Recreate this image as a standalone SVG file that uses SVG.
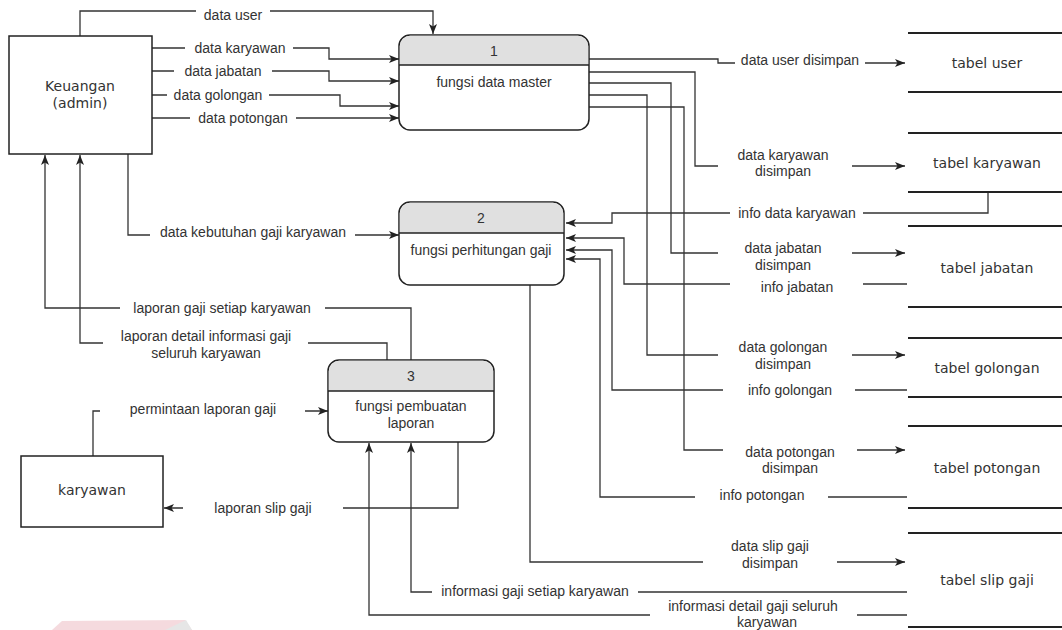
<svg xmlns="http://www.w3.org/2000/svg" width="1062" height="630" viewBox="0 0 1062 630">
  <defs>
    <marker id="arrow" viewBox="0 0 10 8" refX="10" refY="4" markerWidth="10" markerHeight="8" markerUnits="userSpaceOnUse" orient="auto">
      <path d="M0,0 L10,4 L0,8 L2.5,4 Z" fill="#222"/>
    </marker>
    <style>
      .flow { fill: none; stroke: #333; stroke-width: 1.3; }
      .arr { marker-end: url(#arrow); }
      .gap { fill: #fff; stroke: none; }
      .lbl { font-family: "Liberation Sans", Arial, sans-serif; font-size: 14px; fill: #333; text-anchor: middle; }
      .ent { font-family: "DejaVu Sans", Verdana, sans-serif; font-size: 14px; fill: #333; text-anchor: middle; }
      .box { fill: #fff; stroke: #222; stroke-width: 1.5; }
      .proc { fill: #fff; stroke: #222; stroke-width: 1.5; }
      .head { fill: #e0e0e0; stroke: none; }
      .div { stroke: #222; stroke-width: 1.5; }
      .store { stroke: #222; stroke-width: 2.2; }
    </style>
  </defs>
  <rect width="1062" height="630" fill="#fff"/>

  <!-- faint logo mark at the lower left -->
  <g id="logo-mark" opacity="0.6">
    <polygon points="52,630 62,621 185,620 192,630" fill="#efc3c9"/>
    <polygon points="165,630 186,620 192,630" fill="#d6d6d6"/>
  </g>

  <!-- data flows -->
  <g id="connectors">
    <path class="flow arr" d="M80,36 V11 H433 V34"/>
    <path class="flow arr" d="M152,48 H329 V59 H399"/>
    <path class="flow arr" d="M152,71 H329 V81 H399"/>
    <path class="flow arr" d="M152,95 H340 V106 H399"/>
    <path class="flow arr" d="M152,118 H399"/>
    <path class="flow arr" d="M589,59 H718 V63 H905"/>
    <path class="flow arr" d="M589,72 H695 V166 H905"/>
    <path class="flow arr" d="M589,83 H671 V253 H905"/>
    <path class="flow arr" d="M589,95 H647 V355 H905"/>
    <path class="flow arr" d="M589,107 H684 V450 H905"/>
    <path class="flow arr" d="M988,192 V213 H612 V223 H566"/>
    <path class="flow arr" d="M907,284 H624 V238 H566"/>
    <path class="flow arr" d="M907,390 H612 V250 H566"/>
    <path class="flow arr" d="M907,497 H600 V259 H566"/>
    <path class="flow arr" d="M530,285 V562 H905"/>
    <path class="flow arr" d="M128,154 V235 H399"/>
    <path class="flow arr" d="M411,360 V308 H45 V155"/>
    <path class="flow arr" d="M387,360 V343 H80 V155"/>
    <path class="flow arr" d="M93,456 V411 H328"/>
    <path class="flow arr" d="M458,442 V508 H164"/>
    <path class="flow arr" d="M907,592 H411 V443"/>
    <path class="flow arr" d="M907,615 H369 V443"/>
  </g>

  <!-- flow labels -->
  <g id="flow-labels">
    <rect class="gap" x="196" y="3" width="74" height="18"/>
    <text class="lbl" x="233" y="20">data user</text>
    <rect class="gap" x="185" y="39" width="108" height="18"/>
    <text class="lbl" x="240" y="53">data karyawan</text>
    <rect class="gap" x="174" y="62" width="98" height="18"/>
    <text class="lbl" x="223" y="76">data jabatan</text>
    <rect class="gap" x="167" y="86" width="102" height="18"/>
    <text class="lbl" x="218" y="100">data golongan</text>
    <rect class="gap" x="190" y="109" width="106" height="18"/>
    <text class="lbl" x="243" y="123">data potongan</text>

    <rect class="gap" x="735" y="51" width="130" height="18"/>
    <text class="lbl" x="800" y="65">data user disimpan</text>
    <rect class="gap" x="718" y="145" width="134" height="34"/>
    <text class="lbl" x="783" y="160">data karyawan</text>
    <text class="lbl" x="783" y="176">disimpan</text>
    <rect class="gap" x="718" y="238" width="134" height="34"/>
    <text class="lbl" x="783" y="253">data jabatan</text>
    <text class="lbl" x="783" y="270">disimpan</text>
    <rect class="gap" x="718" y="337" width="134" height="34"/>
    <text class="lbl" x="783" y="352">data golongan</text>
    <text class="lbl" x="783" y="369">disimpan</text>
    <rect class="gap" x="723" y="442" width="134" height="34"/>
    <text class="lbl" x="790" y="457">data potongan</text>
    <text class="lbl" x="790" y="473">disimpan</text>

    <rect class="gap" x="730" y="204" width="133" height="18"/>
    <text class="lbl" x="797" y="218">info data karyawan</text>
    <rect class="gap" x="730" y="276" width="133" height="18"/>
    <text class="lbl" x="797" y="292">info jabatan</text>
    <rect class="gap" x="723" y="381" width="132" height="18"/>
    <text class="lbl" x="790" y="395">info golongan</text>
    <rect class="gap" x="695" y="487" width="133" height="18"/>
    <text class="lbl" x="762" y="500">info potongan</text>

    <rect class="gap" x="703" y="536" width="134" height="34"/>
    <text class="lbl" x="770" y="551">data slip gaji</text>
    <text class="lbl" x="770" y="568">disimpan</text>

    <rect class="gap" x="150" y="226" width="205" height="18"/>
    <text class="lbl" x="253" y="237">data kebutuhan gaji karyawan</text>
    <rect class="gap" x="120" y="299" width="205" height="18"/>
    <text class="lbl" x="222" y="313">laporan gaji setiap karyawan</text>
    <rect class="gap" x="103" y="326" width="205" height="34"/>
    <text class="lbl" x="206" y="341">laporan detail informasi gaji</text>
    <text class="lbl" x="206" y="358">seluruh karyawan</text>

    <rect class="gap" x="100" y="400" width="205" height="18"/>
    <text class="lbl" x="203" y="414">permintaan laporan gaji</text>
    <rect class="gap" x="183" y="499" width="160" height="18"/>
    <text class="lbl" x="263" y="513">laporan slip gaji</text>

    <rect class="gap" x="432" y="583" width="206" height="18"/>
    <text class="lbl" x="535" y="596">informasi gaji setiap karyawan</text>
    <rect class="gap" x="650" y="596" width="207" height="34"/>
    <text class="lbl" x="753" y="611">informasi detail gaji seluruh</text>
    <text class="lbl" x="767" y="627">karyawan</text>
  </g>

  <!-- external entities -->
  <g id="entity-keuangan">
    <rect class="box" x="9" y="36" width="143" height="118"/>
    <text class="ent" x="80" y="91">Keuangan</text>
    <text class="ent" x="80" y="108">(admin)</text>
  </g>
  <g id="entity-karyawan">
    <rect class="box" x="21" y="456" width="142" height="71"/>
    <text class="ent" x="92" y="495">karyawan</text>
  </g>

  <!-- processes -->
  <g id="process-1">
    <rect class="proc" x="399" y="35" width="190" height="95" rx="11"/>
    <path class="head" d="M399.8,65 V46 A11,11 0 0 1 410,35.8 H578 A11,11 0 0 1 588.2,46 V65 Z"/>
    <line class="div" x1="399" y1="65" x2="589" y2="65"/>
    <text class="lbl" x="494" y="56">1</text>
    <text class="lbl" x="494" y="87">fungsi data master</text>
  </g>
  <g id="process-2">
    <rect class="proc" x="399" y="202" width="165" height="83" rx="11"/>
    <path class="head" d="M399.8,233 V213 A11,11 0 0 1 410,202.8 H553 A11,11 0 0 1 563.2,213 V233 Z"/>
    <line class="div" x1="399" y1="233" x2="564" y2="233"/>
    <text class="lbl" x="481" y="223">2</text>
    <text class="lbl" x="481" y="255">fungsi perhitungan gaji</text>
  </g>
  <g id="process-3">
    <rect class="proc" x="328" y="360" width="166" height="82" rx="11"/>
    <path class="head" d="M328.8,391 V371 A11,11 0 0 1 339,360.8 H483 A11,11 0 0 1 493.2,371 V391 Z"/>
    <line class="div" x1="328" y1="391" x2="494" y2="391"/>
    <text class="lbl" x="411" y="381">3</text>
    <text class="lbl" x="411" y="411">fungsi pembuatan</text>
    <text class="lbl" x="411" y="428">laporan</text>
  </g>

  <!-- data stores -->
  <g id="store-user">
    <line class="store" x1="908" y1="33" x2="1062" y2="33"/>
    <line class="store" x1="908" y1="92" x2="1062" y2="92"/>
    <text class="ent" x="987" y="68">tabel user</text>
  </g>
  <g id="store-karyawan">
    <line class="store" x1="908" y1="133" x2="1062" y2="133"/>
    <line class="store" x1="908" y1="192" x2="1062" y2="192"/>
    <text class="ent" x="987" y="168">tabel karyawan</text>
  </g>
  <g id="store-jabatan">
    <line class="store" x1="908" y1="226" x2="1062" y2="226"/>
    <line class="store" x1="908" y1="307" x2="1062" y2="307"/>
    <text class="ent" x="987" y="273">tabel jabatan</text>
  </g>
  <g id="store-golongan">
    <line class="store" x1="908" y1="338" x2="1062" y2="338"/>
    <line class="store" x1="908" y1="397" x2="1062" y2="397"/>
    <text class="ent" x="987" y="373">tabel golongan</text>
  </g>
  <g id="store-potongan">
    <line class="store" x1="908" y1="426" x2="1062" y2="426"/>
    <line class="store" x1="908" y1="508" x2="1062" y2="508"/>
    <text class="ent" x="987" y="473">tabel potongan</text>
  </g>
  <g id="store-slip-gaji">
    <line class="store" x1="908" y1="533" x2="1062" y2="533"/>
    <line class="store" x1="908" y1="627" x2="1062" y2="627"/>
    <text class="ent" x="987" y="585">tabel slip gaji</text>
  </g>
</svg>
